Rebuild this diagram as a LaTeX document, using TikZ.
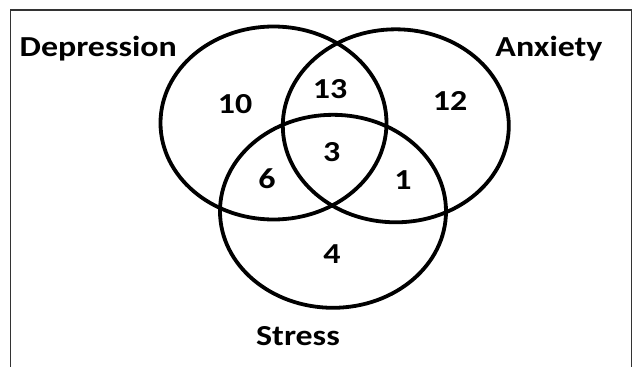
\documentclass[tikz,border=0pt]{standalone}
\usepackage{fontspec}
\setmainfont[FakeStretch=1.17]{Carlito}
\usetikzlibrary{shapes.geometric}
\begin{document}
\begin{tikzpicture}[x=1pt,y=-1pt,
  setring/.style={draw=black, line width=3.8pt, ellipse, minimum width=226pt, minimum height=193pt, inner sep=0pt},
  lbl/.style={font=\fontsize{29}{31}\selectfont\bfseries, inner sep=0pt, anchor=base}]
\useasboundingbox (0,0) rectangle (633,367);
\draw[line width=1.5pt, draw=black!80] (10.5,370) -- (10.5,10) -- (631.5,10) -- (631.5,370);
\node[setring] (dep) at (273.5,123) {};
\node[setring] (anx) at (395.8,125.8) {};
\node[setring] (str) at (333,211.3) {};
\node[lbl] (ldep) at (98.3,56.7) {Depression};
\node[lbl] (lanx) at (549,56.7) {Anxiety};
\node[lbl] (lstr) at (298,345) {Stress};
\node[lbl] (n10) at (235,113.3) {10};
\node[lbl] (n13) at (330,98.3) {13};
\node[lbl] (n12) at (450,110) {12};
\node[lbl] (n3) at (331.7,161) {3};
\node[lbl] (n6) at (267,188.3) {6};
\node[lbl] (n1) at (403,189) {1};
\node[lbl] (n4) at (332,263.3) {4};
\end{tikzpicture}
\end{document}
